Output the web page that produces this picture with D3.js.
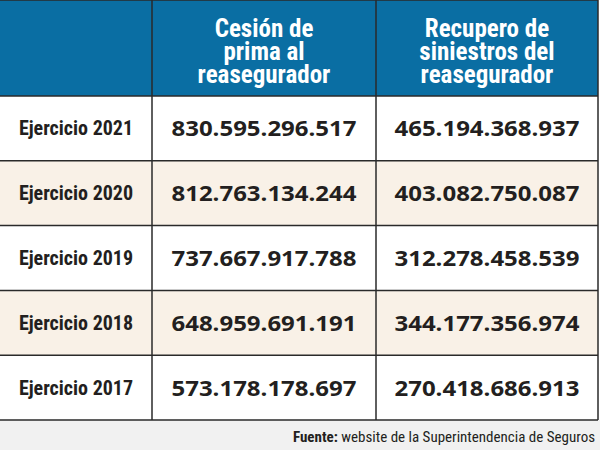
<!DOCTYPE html>
<html><head><meta charset="utf-8">
<script src="https://cdn.jsdelivr.net/npm/d3@7"></script>
<style>body{margin:0;background:#fff}</style></head>
<body><svg id="c" width="600" height="450"></svg>
<script>
const headers = ["Cesión de|prima al|reasegurador", "Recupero de|siniestros del|reasegurador"];
const categories = ["Ejercicio 2021","Ejercicio 2020","Ejercicio 2019","Ejercicio 2018","Ejercicio 2017"];
const cesion = ["830.595.296.517","812.763.134.244","737.667.917.788","648.959.691.191","573.178.178.697"];
const recupero = ["465.194.368.937","403.082.750.087","312.278.458.539","344.177.356.974","270.418.686.913"];

const svg = d3.select("#c");
const x = d3.scaleOrdinal().domain([0,1,2]).range([0,152,376]);
const xEnd = [152,376,598];
const y = d3.scaleBand().domain(categories).range([96,420]);
const cond = "'Liberation Sans Narrow','Roboto Condensed','Arial Narrow',sans-serif";

svg.append("rect").attr("x",0).attr("y",420).attr("width",600).attr("height",30).attr("fill","#f1f1f1");
svg.append("rect").attr("x",0).attr("y",0).attr("width",598).attr("height",96).attr("fill","#0a6ea3");
categories.forEach((c,i)=>{
  svg.append("rect").attr("x",0).attr("y",y(c)).attr("width",598).attr("height",y.bandwidth())
    .attr("fill", i%2 ? "#f9f1e7" : "#ffffff");
});
headers.forEach((h,j)=>{
  const cx = (x(j+1)+xEnd[j+1])/2;
  h.split("|").forEach((line,k)=>{
    svg.append("text").attr("x",cx).attr("y",37+k*23).attr("text-anchor","middle")
      .attr("fill","#fff").attr("font-family",cond).attr("font-weight","bold").attr("font-size",25)
      .text(line);
  });
});
categories.forEach((c,i)=>{
  const cy = y(c)+y.bandwidth()/2+7;
  svg.append("text").attr("x",76).attr("y",cy).attr("text-anchor","middle")
    .attr("font-family",cond).attr("font-weight","bold").attr("font-size",20).attr("fill","#231f20").text(c);
  [cesion[i],recupero[i]].forEach((v,j)=>{
    const cx=(x(j+1)+xEnd[j+1])/2;
    svg.append("text").attr("x",cx).attr("y",cy+1).attr("text-anchor","middle")
      .attr("font-family","'Open Sans',sans-serif").attr("font-weight","bold").attr("font-size",22)
      .attr("textLength",185).attr("lengthAdjust","spacingAndGlyphs").attr("fill","#231f20").text(v);
  });
});
const g = svg.append("g").attr("stroke","#2a2a2a").attr("stroke-width",1.5);
[0,96].concat(categories.map(c=>y(c)+y.bandwidth())).forEach(yy=>{
  g.append("line").attr("x1",0).attr("x2",598).attr("y1",yy).attr("y2",yy);
});
[152,376,598].forEach(xx=>g.append("line").attr("x1",xx).attr("x2",xx).attr("y1",0).attr("y2",420));
const f = svg.append("text").attr("x",595).attr("y",442).attr("text-anchor","end")
  .attr("font-family",cond).attr("font-size",15).attr("fill","#231f20");
f.append("tspan").attr("font-weight","bold").text("Fuente: ");
f.append("tspan").text("website de la Superintendencia de Seguros");
</script></body></html>
